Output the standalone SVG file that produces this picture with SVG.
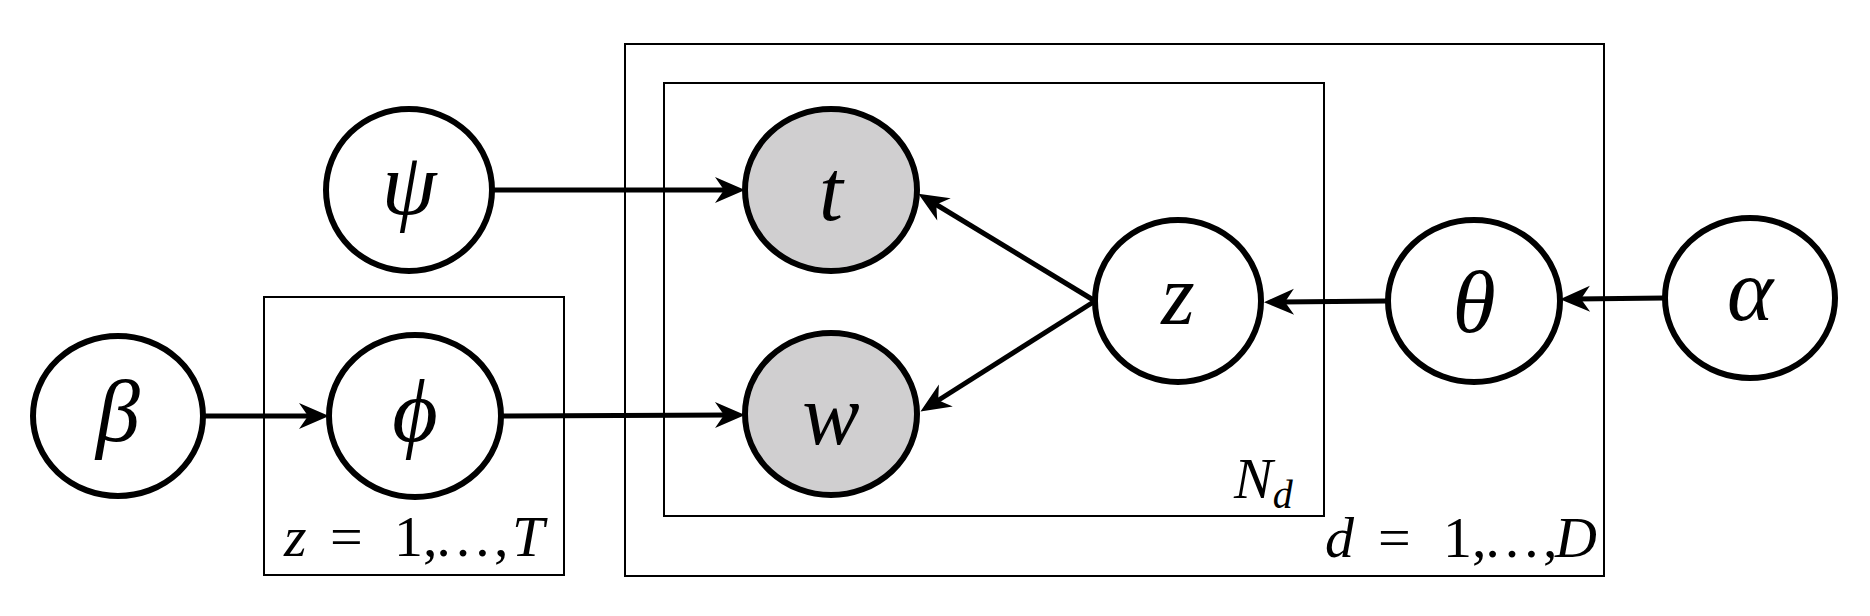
<svg xmlns="http://www.w3.org/2000/svg" width="1870" height="616" viewBox="0 0 1870 616">
<style>
.node{fill:#fff;stroke:#000;stroke-width:6}
.obs{fill:#d0cfd0;stroke:#000;stroke-width:6}
.plate{fill:none;stroke:#000;stroke-width:2}
.edge{stroke:#000;stroke-width:5;fill:none;marker-end:url(#arr)}
.lbl{font-family:"Liberation Serif","DejaVu Serif",serif;font-style:italic;font-size:88px;text-anchor:middle;fill:#000}
.lat{font-size:86px}
.pl{font-family:"Liberation Serif","DejaVu Serif",serif;font-size:58px;fill:#000}
.it{font-style:italic}
</style>
<defs>
<marker id="arr" markerUnits="userSpaceOnUse" viewBox="-16 -14 34 28" refX="0" refY="0" markerWidth="34" markerHeight="28" orient="auto">
<path d="M16,0 L-14,-13 L-5,0 L-14,13 Z" fill="#000"/>
</marker>
</defs>
<g id="plates">
<rect id="plate-d" class="plate" x="625" y="44" width="979" height="532"/>
<rect id="plate-n" class="plate" x="664" y="83" width="660" height="433"/>
<rect id="plate-z" class="plate" x="264" y="297" width="300" height="278"/>
<text class="pl" y="556"><tspan class="it" x="284">z</tspan><tspan x="330">=</tspan><tspan x="394">1,</tspan><tspan x="434">…</tspan><tspan x="494">,</tspan><tspan class="it" x="512">T</tspan></text>
<text class="pl" y="557"><tspan class="it" x="1325">d</tspan><tspan x="1378">=</tspan><tspan x="1443">1,</tspan><tspan x="1483">…</tspan><tspan x="1543">,</tspan><tspan class="it" x="1555">D</tspan></text>
<text class="pl" x="1234" y="498"><tspan class="it">N</tspan><tspan class="it" font-size="40" dy="10">d</tspan></text>
</g>
<g id="edges">
<line class="edge" x1="492" y1="190" x2="729" y2="190"/>
<line class="edge" x1="203" y1="416" x2="313" y2="416"/>
<line class="edge" x1="501" y1="416" x2="729" y2="415"/>
<line class="edge" x1="1095" y1="301" x2="932" y2="202"/>
<line class="edge" x1="1095" y1="301" x2="934" y2="403"/>
<line class="edge" x1="1388" y1="301" x2="1280" y2="302"/>
<line class="edge" x1="1665" y1="298" x2="1576" y2="299"/>
</g>
<g id="psi"><ellipse class="node" cx="409" cy="190" rx="83" ry="81"/><text class="lbl" x="409" y="214">ψ</text></g>
<g id="beta"><ellipse class="node" cx="118" cy="416" rx="85" ry="80"/><text class="lbl" x="118" y="441">β</text></g>
<g id="phi"><ellipse class="node" cx="415" cy="416" rx="86" ry="81"/><text class="lbl" x="415" y="441">ϕ</text></g>
<g id="t"><ellipse class="obs" cx="831" cy="190" rx="86" ry="81"/><text class="lbl lat" x="831" y="220">t</text></g>
<g id="w"><ellipse class="obs" cx="831" cy="414" rx="86" ry="81"/><text class="lbl lat" x="831" y="444">w</text></g>
<g id="z"><ellipse class="node" cx="1178" cy="301" rx="83" ry="81"/><text class="lbl lat" x="1178" y="324">z</text></g>
<g id="theta"><ellipse class="node" cx="1474" cy="301" rx="86" ry="81"/><text class="lbl" x="1474" y="332">θ</text></g>
<g id="alpha"><ellipse class="node" cx="1750" cy="298" rx="85" ry="80"/><text class="lbl" x="1750" y="320">α</text></g>
</svg>
